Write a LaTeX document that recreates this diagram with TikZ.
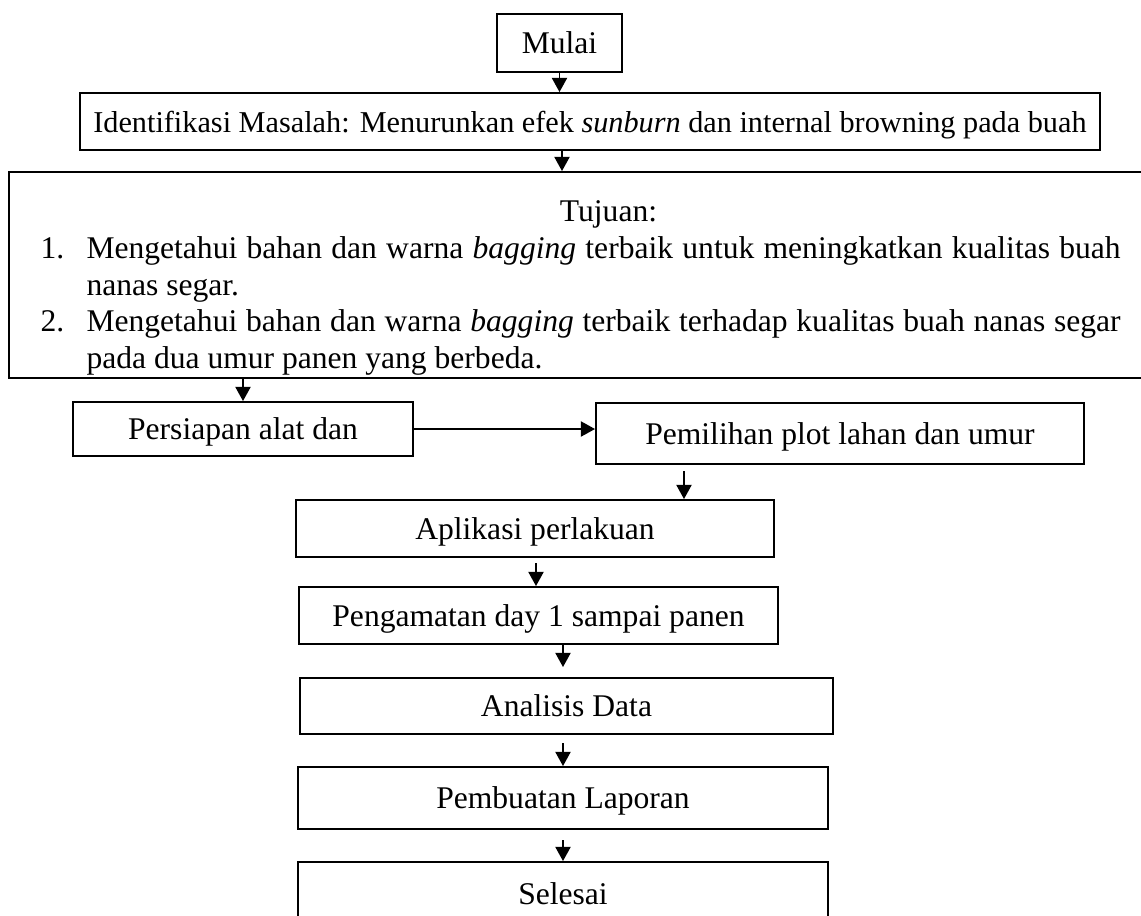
\documentclass[tikz,border=0pt]{standalone}
\usepackage{fontspec}
\setmainfont{Liberation Serif}
\usetikzlibrary{arrows.meta,positioning}

\begin{document}
\begin{tikzpicture}[
        x=0.38pt, y=-0.38pt,
        font=\fontsize{12}{14}\selectfont,
        flow/.style={-{Triangle[length=5.4pt, width=5.8pt]}, line width=0.6pt},
        stepbox/.style={draw, line width=0.75pt, inner sep=0pt, align=center,
            text height=9.6pt, text depth=1.3pt}
    ]
        \useasboundingbox (0,0) rectangle (1141,915);

        % Start and problem statement.
        \node[stepbox, minimum width=125*0.38pt, minimum height=58*0.38pt]
            (mulai) at (559.5,43) {Mulai};
        \node[stepbox, minimum width=1020*0.38pt, minimum height=57*0.38pt,
            font=\fontsize{11.5}{13}\selectfont]
            (masalah) at (590,121.5)
            {Identifikasi Masalah: Menurunkan efek \textit{sunburn} dan internal browning pada buah};
        \draw[flow] (mulai.south) -- (mulai.south |- masalah.north);

        % Objectives (the box runs past the right edge of the page).
        \node[draw, line width=0.75pt, minimum width=1198*0.38pt, minimum height=206*0.38pt]
            (tujuan) at (608,275) {};
        \node[anchor=north west, align=left, inner sep=0pt] (tujuantext) at (40,200)
            {\makebox[431.68pt]{Tujuan:}\\
             \makebox[17.48pt][l]{1.}\hbox to 393pt{Mengetahui bahan dan warna \textit{bagging} terbaik untuk meningkatkan kualitas buah}\\
             \hspace*{17.48pt}nanas segar.\\
             \makebox[17.48pt][l]{2.}\hbox to 393pt{Mengetahui bahan dan warna \textit{bagging} terbaik terhadap kualitas buah nanas segar}\\
             \hspace*{17.48pt}pada dua umur panen yang berbeda.};
        \draw[flow] (masalah.south -| 562,0) -- (tujuan.north -| 562,0);

        % Preparation.
        \node[stepbox, minimum width=340*0.38pt, minimum height=54*0.38pt]
            (persiapan) at (243,429) {Persiapan alat dan};
        \node[stepbox, minimum width=488*0.38pt, minimum height=61*0.38pt]
            (pemilihan) at (840,433.5) {Pemilihan plot lahan dan umur};
        \draw[flow] (tujuan.south -| persiapan.north) -- (persiapan.north);
        \draw[flow] (persiapan.east) -- (persiapan.east -| pemilihan.west);

        % Field work and reporting.
        \node[stepbox, minimum width=478*0.38pt, minimum height=57*0.38pt]
            (aplikasi) at (535,528.5) {Aplikasi perlakuan};
        \node[stepbox, minimum width=479*0.38pt, minimum height=57*0.38pt]
            (pengamatan) at (538.5,615.5) {Pengamatan day 1 sampai panen};
        \node[stepbox, minimum width=533*0.38pt, minimum height=56*0.38pt]
            (analisis) at (566.5,706) {Analisis Data};
        \node[stepbox, minimum width=530*0.38pt, minimum height=62*0.38pt]
            (laporan) at (563,798) {Pembuatan Laporan};
        \node[stepbox, minimum width=530*0.38pt, minimum height=63*0.38pt]
            (selesai) at (563,893.5) {Selesai};

        \draw[flow] ([yshift=-6*0.38pt]pemilihan.south -| 684,0) -- (aplikasi.north -| 684,0);
        \draw[flow] ([yshift=-5*0.38pt]aplikasi.south -| 536,0) -- (pengamatan.north -| 536,0);
        \draw[flow] (pengamatan.south -| 563,0) -- ([yshift=10*0.38pt]analisis.north -| 563,0);
        \draw[flow] ([yshift=-8*0.38pt]analisis.south -| 563,0) -- (laporan.north -| 563,0);
        \draw[flow] ([yshift=-10*0.38pt]laporan.south -| 563,0) -- (selesai.north -| 563,0);
    \end{tikzpicture}
\end{document}
